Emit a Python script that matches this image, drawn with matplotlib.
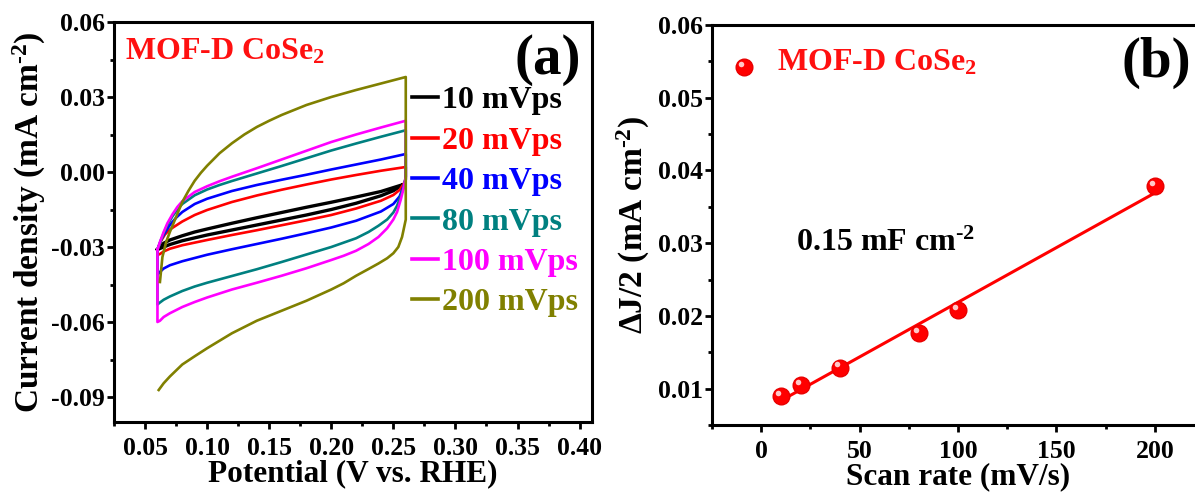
import numpy as np
import matplotlib
matplotlib.use("Agg")
import matplotlib.pyplot as plt
from matplotlib.ticker import MultipleLocator, FormatStrFormatter
from matplotlib.transforms import ScaledTranslation

# ---------------- data: panel (a) CV curves ----------------
# each curve: anodic (upper) branch, then cathodic (lower) branch
labels_a = ["10 mVps", "20 mVps", "40 mVps", "80 mVps", "100 mVps", "200 mVps"]
colors_a = ["#000000", "#ff0000", "#0000ff", "#008080", "#ff00ff", "#808000"]

cv10_v = [0.060, 0.065, 0.070, 0.080, 0.090, 0.100, 0.120, 0.140, 0.160, 0.180, 0.200, 0.220, 0.240, 0.258,
          0.250, 0.240, 0.220, 0.200, 0.180, 0.160, 0.140, 0.120, 0.100, 0.080, 0.070, 0.065, 0.060]
cv10_j = [-0.031, -0.0285, -0.0272, -0.0255, -0.0240, -0.0228, -0.0205, -0.0183, -0.0162, -0.0141, -0.0121,
          -0.0100, -0.0078, -0.0050,
          -0.0075, -0.0095, -0.0125, -0.0150, -0.0172, -0.0192, -0.0212, -0.0232, -0.0252, -0.0275, -0.0290,
          -0.0300, -0.0310]

cv20_v = [0.060, 0.063, 0.066, 0.070, 0.080, 0.090, 0.100, 0.120, 0.140, 0.160, 0.180, 0.200, 0.220, 0.240, 0.260,
          0.260, 0.258, 0.255, 0.250, 0.240, 0.220, 0.200, 0.180, 0.160, 0.140, 0.120, 0.100, 0.080, 0.070,
          0.065, 0.062, 0.060, 0.060]
cv20_j = [-0.031, -0.0275, -0.0250, -0.0230, -0.0198, -0.0172, -0.0152, -0.0120, -0.0094, -0.0071, -0.0050,
          -0.0030, -0.0012, 0.0005, 0.0020,
          -0.0030, -0.0050, -0.0072, -0.0092, -0.0115, -0.0146, -0.0172, -0.0193, -0.0213, -0.0233, -0.0252,
          -0.0272, -0.0293, -0.0307, -0.0318, -0.0328, -0.0332, -0.031]

cv40_v = [0.060, 0.063, 0.067, 0.070, 0.075, 0.080, 0.090, 0.100, 0.120, 0.140, 0.160, 0.180, 0.200, 0.220,
          0.240, 0.260,
          0.260, 0.258, 0.255, 0.250, 0.240, 0.220, 0.200, 0.180, 0.160, 0.140, 0.120, 0.100, 0.080, 0.070,
          0.065, 0.062, 0.060, 0.060]
cv40_j = [-0.031, -0.0270, -0.0235, -0.0212, -0.0183, -0.0160, -0.0128, -0.0107, -0.0076, -0.0052, -0.0031,
          -0.0011, 0.0010, 0.0030, 0.0050, 0.0072,
          -0.0030, -0.0060, -0.0098, -0.0128, -0.0158, -0.0195, -0.0222, -0.0245, -0.0267, -0.0288, -0.0309,
          -0.0331, -0.0357, -0.0373, -0.0386, -0.0400, -0.0410, -0.031]

cv80_v = [0.060, 0.062, 0.065, 0.068, 0.072, 0.076, 0.080, 0.090, 0.100, 0.110, 0.120, 0.140, 0.160, 0.180,
          0.200, 0.220, 0.240, 0.260,
          0.260, 0.258, 0.256, 0.253, 0.250, 0.245, 0.238, 0.230, 0.220, 0.200, 0.180, 0.160, 0.140, 0.120,
          0.100, 0.090, 0.080, 0.070, 0.065, 0.062, 0.060, 0.060]
cv80_j = [-0.031, -0.0285, -0.0245, -0.0212, -0.0178, -0.0150, -0.0128, -0.0093, -0.0070, -0.0052, -0.0036,
          -0.0006, 0.0024, 0.0055, 0.0086, 0.0114, 0.0141, 0.0167,
          -0.0020, -0.0065, -0.0095, -0.0135, -0.0162, -0.0190, -0.0215, -0.0240, -0.0265, -0.0300, -0.0330,
          -0.0360, -0.0389, -0.0416, -0.0443, -0.0458, -0.0476, -0.0498, -0.0511, -0.0522, -0.0530, -0.031]

cv100_v = [0.060, 0.062, 0.065, 0.068, 0.072, 0.076, 0.080, 0.090, 0.100, 0.110, 0.120, 0.140, 0.160, 0.180,
           0.200, 0.220, 0.240, 0.260,
           0.260, 0.258, 0.256, 0.253, 0.250, 0.245, 0.238, 0.230, 0.220, 0.210, 0.200, 0.180, 0.160, 0.140,
           0.120, 0.100, 0.090, 0.080, 0.070, 0.065, 0.062, 0.060, 0.060]
cv100_j = [-0.031, -0.0280, -0.0240, -0.0205, -0.0170, -0.0140, -0.0117, -0.0080, -0.0057, -0.0037, -0.0019,
           0.0015, 0.0050, 0.0085, 0.0120, 0.0150, 0.0178, 0.0205,
           -0.0020, -0.0070, -0.0110, -0.0160, -0.0190, -0.0225, -0.0260, -0.0288, -0.0315, -0.0335, -0.0352,
           -0.0385, -0.0415, -0.0443, -0.0470, -0.0502, -0.0520, -0.0540, -0.0565, -0.0580, -0.0595, -0.0600,
           -0.031]

cv200_v = [0.062, 0.064, 0.067, 0.070, 0.075, 0.080, 0.085, 0.090, 0.095, 0.100, 0.110, 0.120, 0.130, 0.140,
           0.150, 0.160, 0.180, 0.200, 0.220, 0.240, 0.260,
           0.260, 0.257, 0.254, 0.250, 0.245, 0.238, 0.230, 0.220, 0.210, 0.200, 0.180, 0.160, 0.140, 0.120,
           0.100, 0.090, 0.080, 0.070, 0.065, 0.061]
cv200_j = [-0.044, -0.034, -0.028, -0.024, -0.018, -0.012, -0.0075, -0.0035, -0.0003, 0.0025, 0.0075, 0.0115,
           0.0150, 0.0180, 0.0205, 0.0228, 0.0268, 0.0300, 0.0328, 0.0354, 0.0380,
           -0.0190, -0.0260, -0.0300, -0.0325, -0.0345, -0.0366, -0.0388, -0.0415, -0.0445, -0.0470, -0.0515,
           -0.0555, -0.0595, -0.0645, -0.0705, -0.0737, -0.0770, -0.0818, -0.0845, -0.0872]

cv_v = [cv10_v, cv20_v, cv40_v, cv80_v, cv100_v, cv200_v]
cv_j = [cv10_j, cv20_j, cv40_j, cv80_j, cv100_j, cv200_j]

# ---------------- data: panel (b) ----------------
scan_rate = [10, 20, 40, 80, 100, 200]
delta_j_half = [0.0090, 0.0105, 0.0129, 0.0177, 0.0208, 0.0378]

# ---------------- style ----------------
plt.rcParams["font.family"] = "Liberation Serif"
plt.rcParams["font.weight"] = "bold"
plt.rcParams["axes.unicode_minus"] = False
plt.rcParams["mathtext.fontset"] = "custom"
plt.rcParams["mathtext.rm"] = "Liberation Serif:bold"
plt.rcParams["mathtext.bf"] = "Liberation Serif:bold"
plt.rcParams["mathtext.it"] = "Liberation Serif:bold:italic"
plt.rcParams["mathtext.default"] = "bf"

TXT = 23
TICK = 18.5

fig = plt.figure(figsize=(11.95, 4.96), dpi=100)
W, H = 1195.0, 496.0
axa = fig.add_axes([114 / W, 1 - 422 / H, (592 - 114) / W, 400 / H])
axb = fig.add_axes([712 / W, 1 - 425 / H, (1204 - 712) / W, 400 / H])


def style_axes(ax):
    for s in ax.spines.values():
        s.set_linewidth(2.2)
    ax.tick_params(which="major", direction="out", length=5, width=2, labelsize=TICK)
    ax.tick_params(which="minor", direction="out", length=3, width=2)
    ax.tick_params(axis="x", which="major", pad=6)
    ax.tick_params(axis="y", which="major", pad=1.5)
    for lab in ax.get_xticklabels() + ax.get_yticklabels():
        lab.set_fontweight("bold")


# ---------- panel (a) ----------
handles = []
for v, j, c, lab in zip(cv_v, cv_j, colors_a, labels_a):
    lw = 2.4 if c == "#000000" else 1.9
    (h,) = axa.plot(v, j, color=c, lw=lw, label=lab, solid_joinstyle="round")
    handles.append(h)

axa.set_xlim(0.025, 0.41)
axa.set_ylim(-0.10, 0.06)
axa.xaxis.set_major_locator(MultipleLocator(0.05))
axa.xaxis.set_minor_locator(MultipleLocator(0.025))
axa.yaxis.set_major_locator(MultipleLocator(0.03))
axa.yaxis.set_minor_locator(MultipleLocator(0.015))
axa.xaxis.set_major_formatter(FormatStrFormatter("%.2f"))
axa.yaxis.set_major_formatter(FormatStrFormatter("%.2f"))
style_axes(axa)
axa.set_xlabel("Potential (V vs. RHE)", fontsize=TXT - 0.5, fontweight="bold", labelpad=-1)
axa.set_ylabel(r"Current density (mA cm$^{\text{-2}}$)", fontsize=24, fontweight="bold", labelpad=2)

leg = axa.legend(handles=handles, loc="upper left", bbox_to_anchor=(0.624, 0.84), frameon=False,
                 fontsize=TXT, handlelength=0.8, handletextpad=0.12, labelspacing=0.345,
                 borderpad=0, borderaxespad=0, labelcolor="linecolor")
for lh in leg.get_lines():
    lh.set_linewidth(2.6)
for t in leg.get_texts():
    t.set_fontweight("bold")

axa.text(0.022, 0.925, "MOF-D CoSe$_2$", transform=axa.transAxes, color="#ff1010",
         fontsize=TXT, fontweight="bold", ha="left", va="center")
axa.text(0.976, 0.905, "(a)", transform=axa.transAxes, color="black",
         fontsize=41, fontweight="bold", ha="right", va="center")

# ---------- panel (b) ----------
coef = np.polyfit(scan_rate, delta_j_half, 1)
fit_x = np.array([scan_rate[0], scan_rate[-1]])
axb.plot(fit_x, np.polyval(coef, fit_x), color="#ff0000", lw=2.2, zorder=2)
axb.plot(scan_rate, delta_j_half, "o", color="#ff0000", ms=12, mec="#e80000", zorder=3)
hl = axb.transData + ScaledTranslation(-2.2 / 72, 2.2 / 72, fig.dpi_scale_trans)
axb.plot(scan_rate, delta_j_half, "o", color="#ffc8c8", ms=4, mew=0, transform=hl, zorder=4)

axb.set_xlim(-25, 225)
axb.set_ylim(0.005, 0.06)
axb.xaxis.set_major_locator(MultipleLocator(50))
axb.xaxis.set_minor_locator(MultipleLocator(25))
axb.yaxis.set_major_locator(MultipleLocator(0.01))
axb.yaxis.set_minor_locator(MultipleLocator(0.005))
axb.yaxis.set_major_formatter(FormatStrFormatter("%.2f"))
style_axes(axb)
axb.set_xlabel("Scan rate (mV/s)", fontsize=TXT - 0.5, fontweight="bold", labelpad=-1)
axb.set_ylabel(r"ΔJ/2 (mA cm$^{\text{-2}}$)", fontsize=24, fontweight="bold", labelpad=4)

# legend entry (marker + label)
lx, ly = 0.066, 0.895
axb.plot([lx], [ly], "o", color="#ff0000", ms=12, mec="#e80000", transform=axb.transAxes, clip_on=False)
axb.plot([lx], [ly], "o", color="#ffc8c8", ms=4, mew=0,
         transform=axb.transAxes + ScaledTranslation(-2.2 / 72, 2.2 / 72, fig.dpi_scale_trans), clip_on=False)
axb.text(0.132, 0.905, "MOF-D CoSe$_2$", transform=axb.transAxes, color="#ff1010",
         fontsize=TXT, fontweight="bold", ha="left", va="center")
axb.text(0.973, 0.905, "(b)", transform=axb.transAxes, color="black",
         fontsize=41, fontweight="bold", ha="right", va="center")
axb.text(0.17, 0.455, r"0.15 mF cm$^{\text{-2}}$", transform=axb.transAxes, color="black",
         fontsize=TXT, fontweight="bold", ha="left", va="center")

fig.savefig("out.png", dpi=100)
